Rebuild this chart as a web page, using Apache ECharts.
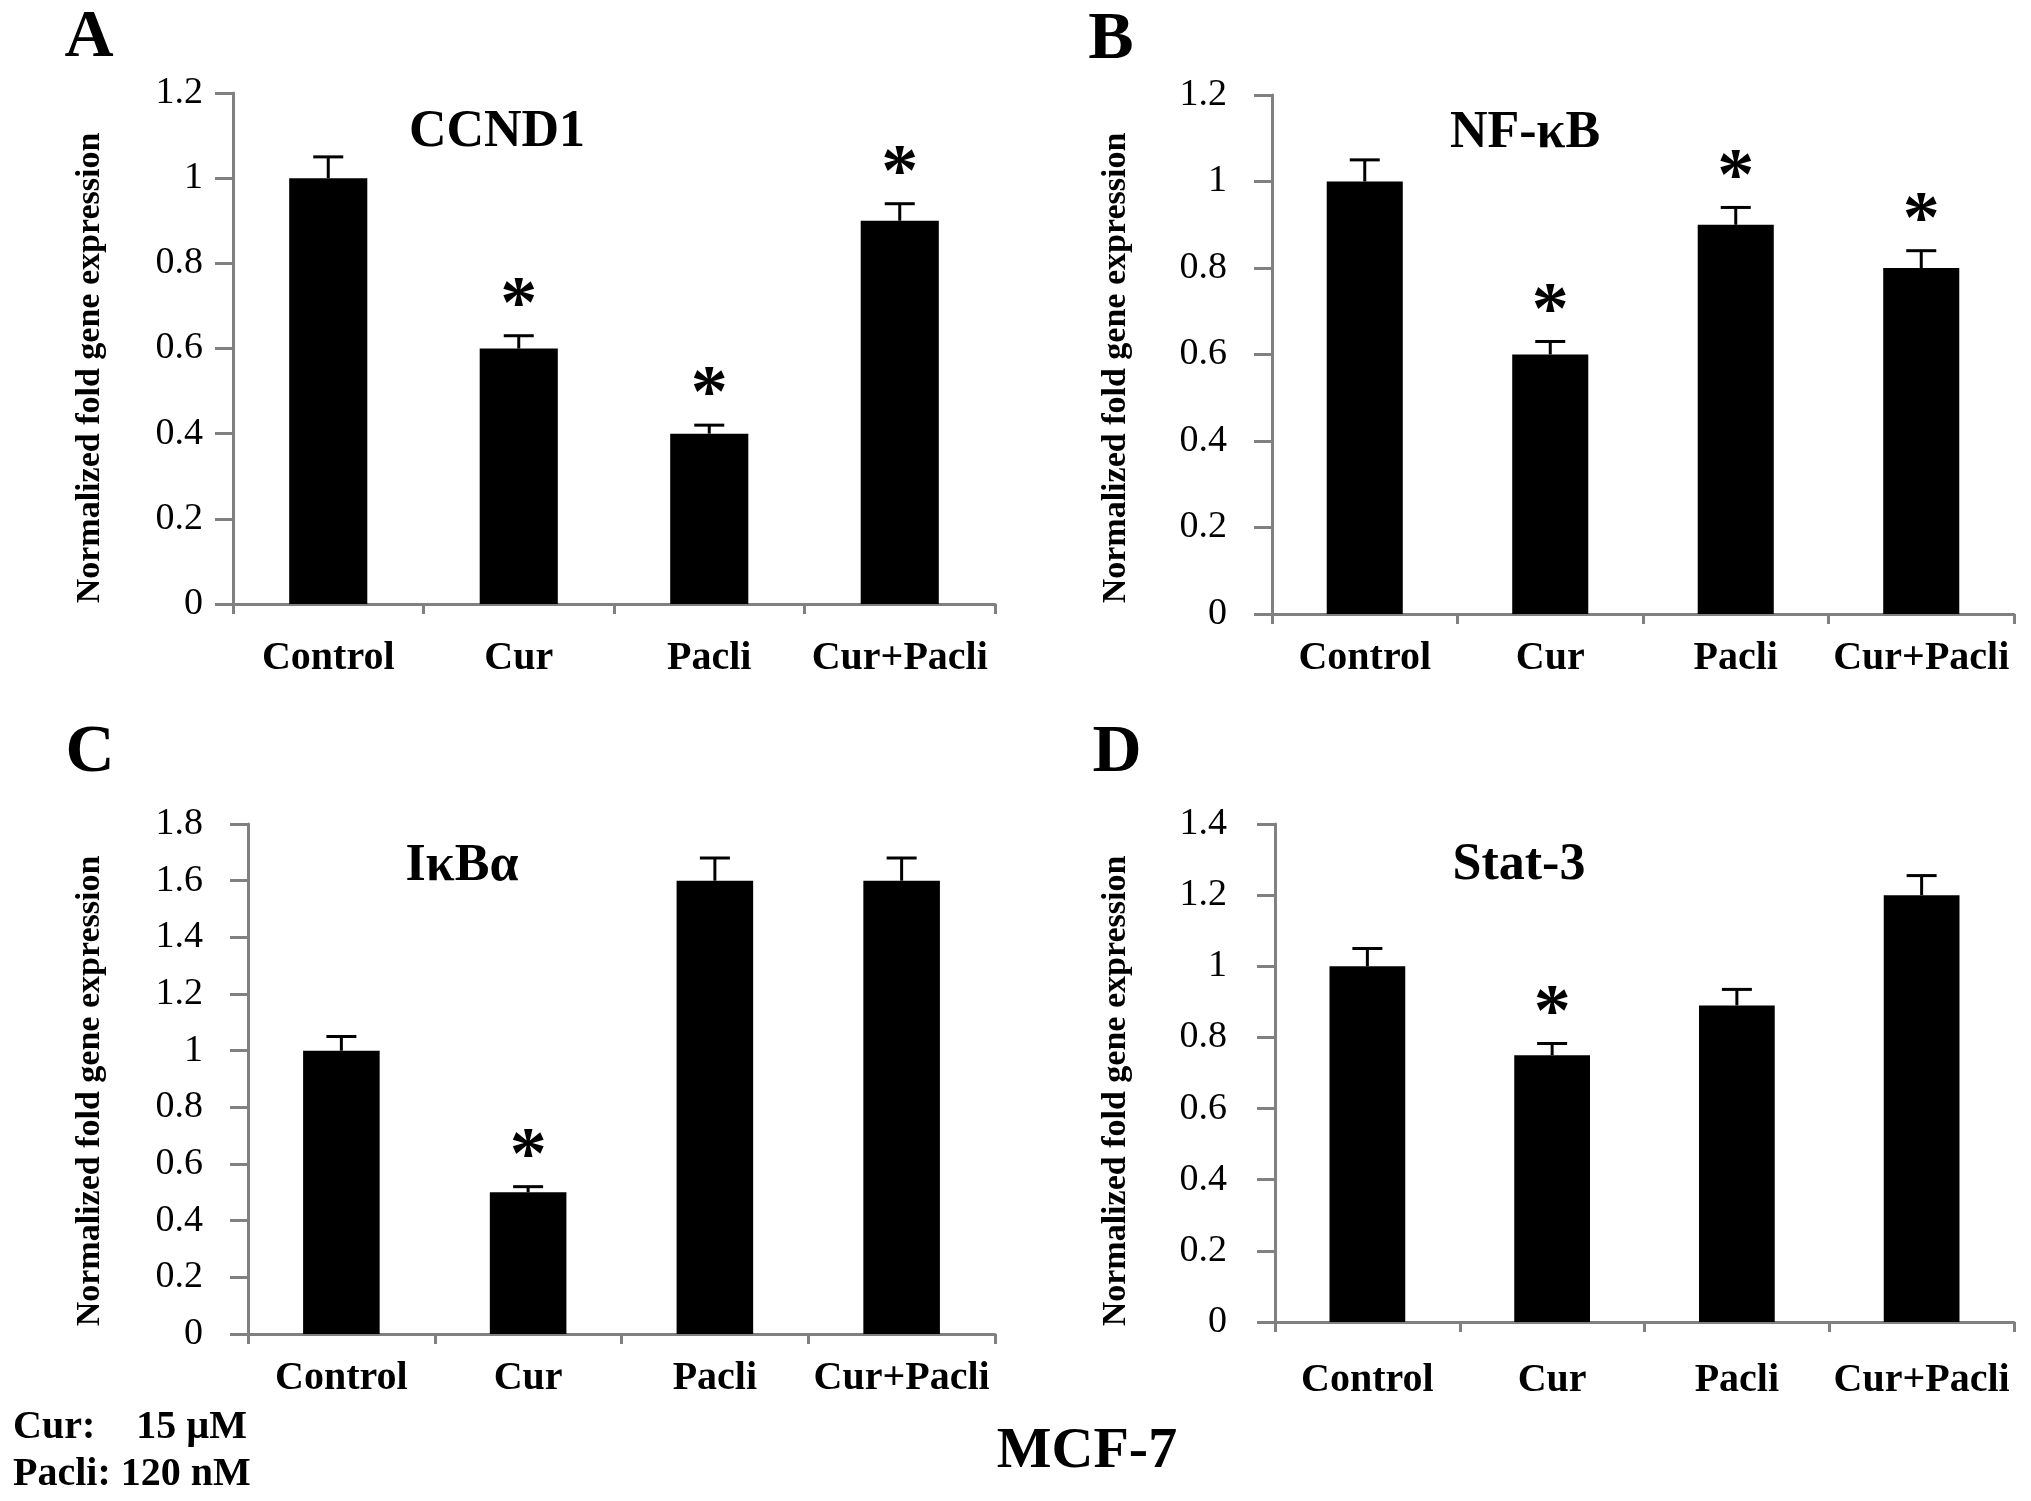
<!DOCTYPE html>
<html>
<head>
<meta charset="utf-8">
<script src="https://cdn.jsdelivr.net/npm/echarts@6/dist/echarts.min.js"></script>
<style>
html,body{margin:0;padding:0;background:#fff;}
#chart{width:2031px;height:1501px;}
</style>
</head>
<body>
<div id="chart"></div>
<script>
// ---- data ----
const categories = ['Control', 'Cur', 'Pacli', 'Cur+Pacli'];
const yTicksMax = [1.2, 1.2, 1.8, 1.4];
const panelLetters = ['A', 'B', 'C', 'D'];
const geneNames = ['CCND1', 'NF-\u03BAB', 'I\u03BAB\u03B1', 'Stat-3'];

const ccnd1Values = [1.0, 0.6, 0.4, 0.9];
const ccnd1Errors = [0.05, 0.03, 0.02, 0.04];
const ccnd1Signif = [0, 1, 1, 1];

const nfkbValues = [1.0, 0.6, 0.9, 0.8];
const nfkbErrors = [0.05, 0.03, 0.04, 0.04];
const nfkbSignif = [0, 1, 1, 1];

const ikbaValues = [1.0, 0.5, 1.6, 1.6];
const ikbaErrors = [0.05, 0.02, 0.08, 0.08];
const ikbaSignif = [0, 1, 0, 0];

const stat3Values = [1.0, 0.75, 0.89, 1.2];
const stat3Errors = [0.05, 0.033, 0.045, 0.055];
const stat3Signif = [0, 1, 0, 0];

const yAxisTitle = 'Normalized fold gene expression';
const doseCur = ['Cur:', '15 \u00B5M'];
const dosePacli = 'Pacli: 120 nM';
const cellLine = 'MCF-7';

// ---- layout ----
const FONT = 'Liberation Serif';
const AXIS_GRAY = '#808080';
const panels = [
  {values: ccnd1Values, errors: ccnd1Errors, sig: ccnd1Signif,
   grid: {left: 233, top: 93, width: 762, height: 511}, yMargin: 30, xMargin: 35,
   letter: [89, 38], title: [497, 133], yName: [90, 368]},
  {values: nfkbValues, errors: nfkbErrors, sig: nfkbSignif,
   grid: {left: 1272, top: 95, width: 742, height: 519}, yMargin: 45, xMargin: 25,
   letter: [1111, 40], title: [1525, 134], yName: [1116, 368]},
  {values: ikbaValues, errors: ikbaErrors, sig: ikbaSignif,
   grid: {left: 248, top: 824, width: 747, height: 510}, yMargin: 45, xMargin: 25,
   letter: [90, 753], title: [462, 867], yName: [90, 1091]},
  {values: stat3Values, errors: stat3Errors, sig: stat3Signif,
   grid: {left: 1275, top: 824, width: 739, height: 498}, yMargin: 48, xMargin: 39,
   letter: [1117, 753], title: [1519, 866], yName: [1116, 1091]}
];

const grids = [], xAxes = [], yAxes = [], series = [], graphics = [];

panels.forEach(function (p, i) {
  grids.push(Object.assign({containLabel: false}, p.grid));
  xAxes.push({
    type: 'category', gridIndex: i, data: categories,
    axisLine: {show: true, lineStyle: {color: AXIS_GRAY, width: 3}},
    axisTick: {show: true, length: 10, alignWithLabel: false, interval: 0,
               lineStyle: {color: AXIS_GRAY, width: 3}},
    axisLabel: {interval: 0, margin: p.xMargin, color: '#000',
                fontFamily: FONT, fontWeight: 'bold', fontSize: 40},
    splitLine: {show: false}
  });
  yAxes.push({
    type: 'value', gridIndex: i, min: 0, max: yTicksMax[i], interval: 0.2,
    axisLine: {show: true, lineStyle: {color: AXIS_GRAY, width: 3}},
    axisTick: {show: true, length: 18, lineStyle: {color: AXIS_GRAY, width: 3}},
    axisLabel: {margin: p.yMargin, color: '#000', fontFamily: FONT, fontSize: 38,
                padding: [10, 0, 0, 0]},
    splitLine: {show: false}
  });
  series.push({
    type: 'bar', xAxisIndex: i, yAxisIndex: i, data: p.values,
    barWidth: '41%', itemStyle: {color: '#000'}, silent: true, animation: false
  });
  series.push({
    type: 'custom', xAxisIndex: i, yAxisIndex: i, animation: false, silent: true,
    data: p.values.map(function (v, k) { return [k, v, p.errors[k], p.sig[k]]; }),
    encode: {x: 0, y: 1},
    renderItem: function (params, api) {
      const k = api.value(0), v = api.value(1), e = api.value(2), s = api.value(3);
      const p0 = api.coord([k, v]);
      const p1 = api.coord([k, v + e]);
      const children = [
        {type: 'line', shape: {x1: p0[0], y1: p0[1], x2: p1[0], y2: p1[1]},
         style: {stroke: '#000', lineWidth: 3}},
        {type: 'line', shape: {x1: p1[0] - 15, y1: p1[1], x2: p1[0] + 15, y2: p1[1]},
         style: {stroke: '#000', lineWidth: 3}}
      ];
      if (s) {
        children.push({type: 'text', x: p1[0], y: p1[1] - 28,
          style: {text: '*', fill: '#000', font: 'bold 74px "Liberation Serif"',
                  align: 'center', verticalAlign: 'middle'}});
      }
      return {type: 'group', children: children};
    }
  });
  graphics.push({type: 'text', x: p.letter[0], y: p.letter[1],
    style: {text: panelLetters[i], fill: '#000', font: 'bold 68px "Liberation Serif"',
            align: 'center', verticalAlign: 'middle'}});
  graphics.push({type: 'text', x: p.title[0], y: p.title[1],
    style: {text: geneNames[i], fill: '#000', font: 'bold 52px "Liberation Serif"',
            align: 'center', verticalAlign: 'middle'}});
  graphics.push({type: 'text', x: p.yName[0], y: p.yName[1], rotation: Math.PI / 2,
    style: {text: yAxisTitle, fill: '#000', font: 'bold 34px "Liberation Serif"',
            align: 'center', verticalAlign: 'middle'}});
});

graphics.push({type: 'text', x: 13, y: 1428,
  style: {text: doseCur[0], fill: '#000', font: 'bold 40px "Liberation Serif"',
          align: 'left', verticalAlign: 'middle'}});
graphics.push({type: 'text', x: 247, y: 1428,
  style: {text: doseCur[1], fill: '#000', font: 'bold 40px "Liberation Serif"',
          align: 'right', verticalAlign: 'middle'}});
graphics.push({type: 'text', x: 13, y: 1475,
  style: {text: dosePacli, fill: '#000', font: 'bold 40px "Liberation Serif"',
          align: 'left', verticalAlign: 'middle'}});
graphics.push({type: 'text', x: 1087, y: 1452,
  style: {text: cellLine, fill: '#000', font: 'bold 58px "Liberation Serif"',
          align: 'center', verticalAlign: 'middle'}});

const chart = echarts.init(document.getElementById('chart'), null, {renderer: 'canvas'});
chart.setOption({
  backgroundColor: '#fff',
  animation: false,
  grid: grids,
  xAxis: xAxes,
  yAxis: yAxes,
  series: series,
  graphic: graphics
});
</script>
</body>
</html>
